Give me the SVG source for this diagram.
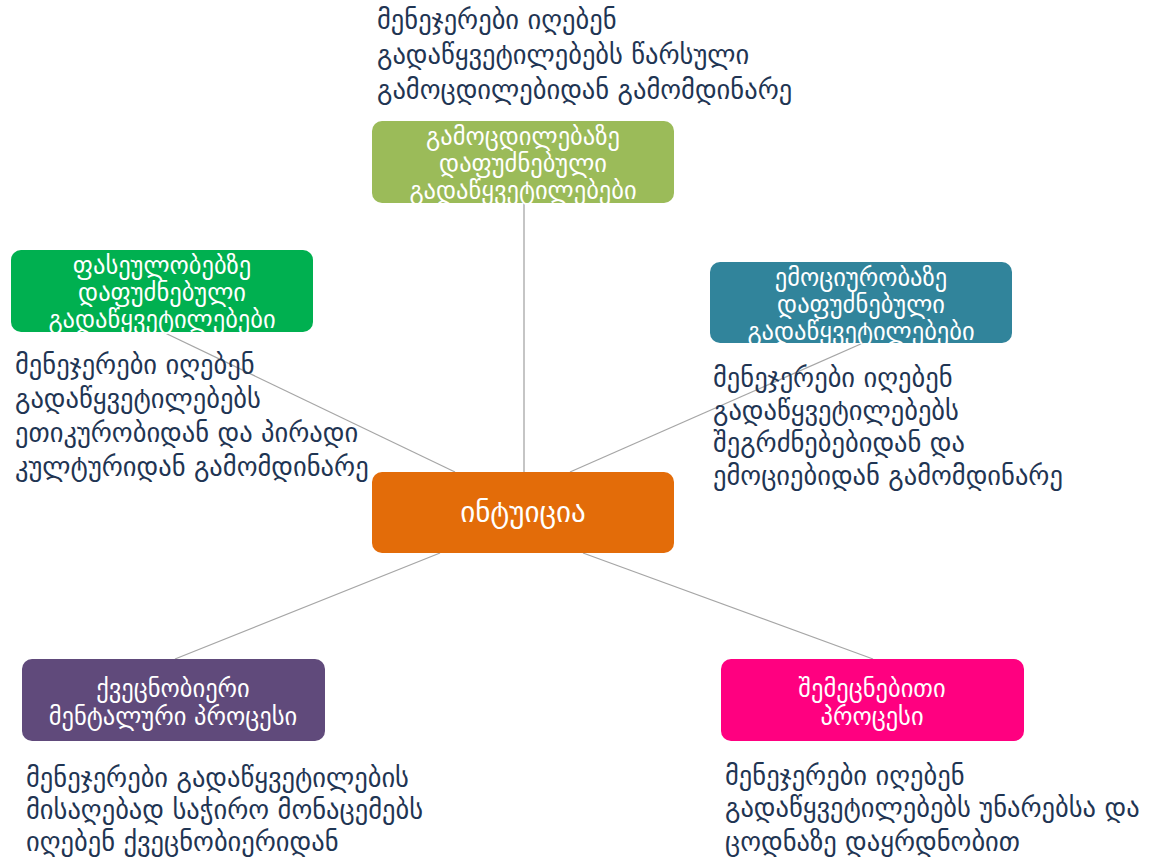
<svg xmlns="http://www.w3.org/2000/svg" width="1164" height="859" viewBox="0 0 1164 859">
<style>
.node{stroke:none}
.nt{font-family:"DejaVu Sans",sans-serif;font-size:24.5px;fill:#ffffff;text-anchor:middle}
.big{font-size:29px}
.note{font-family:"DejaVu Sans",sans-serif;font-size:26.5px;fill:#1F3553}
.conn{stroke:#A6A6A6;stroke-width:1.3;fill:none}
</style>
<rect width="1164" height="859" fill="#ffffff"/>
<g id="connectors">
<line class="conn" x1="524" y1="203" x2="524" y2="472"/>
<line class="conn" x1="163" y1="332" x2="455" y2="472"/>
<line class="conn" x1="863" y1="343" x2="570" y2="472"/>
<line class="conn" x1="440" y1="553" x2="175" y2="659"/>
<line class="conn" x1="583" y1="553" x2="873" y2="659"/>
</g>
<g id="node-top">
<rect class="node" x="372" y="121" width="302" height="82" rx="10" fill="#9BBB59"/>
<text class="nt" x="523" y="145">გამოცდილებაზე</text>
<text class="nt" x="523" y="172">დაფუძნებული</text>
<text class="nt" x="523" y="199">გადაწყვეტილებები</text>
</g>
<g id="node-left">
<rect class="node" x="11" y="250" width="302" height="82" rx="10" fill="#00B050"/>
<text class="nt" x="162" y="274">ფასეულობებზე</text>
<text class="nt" x="162" y="301">დაფუძნებული</text>
<text class="nt" x="162" y="328">გადაწყვეტილებები</text>
</g>
<g id="node-right">
<rect class="node" x="710" y="262" width="302" height="81" rx="10" fill="#31849B"/>
<text class="nt" x="861" y="286">ემოციურობაზე</text>
<text class="nt" x="861" y="313">დაფუძნებული</text>
<text class="nt" x="861" y="340">გადაწყვეტილებები</text>
</g>
<g id="node-center">
<rect class="node" x="372" y="472" width="302" height="81" rx="10" fill="#E36C09"/>
<text class="nt big" x="523" y="522">ინტუიცია</text>
</g>
<g id="node-bottom-left">
<rect class="node" x="22" y="659" width="303" height="82" rx="10" fill="#604A7B"/>
<text class="nt" x="173" y="697">ქვეცნობიერი</text>
<text class="nt" x="173" y="725">მენტალური პროცესი</text>
</g>
<g id="node-bottom-right">
<rect class="node" x="721" y="659" width="303" height="82" rx="10" fill="#FF0080"/>
<text class="nt" x="872" y="697">შემეცნებითი</text>
<text class="nt" x="872" y="725">პროცესი</text>
</g>
<g id="notes">
<text class="note" x="377" y="29">მენეჯერები იღებენ</text>
<text class="note" x="377" y="64">გადაწყვეტილებებს წარსული</text>
<text class="note" x="377" y="99">გამოცდილებიდან გამომდინარე</text>
<text class="note" x="15" y="374">მენეჯერები იღებენ</text>
<text class="note" x="15" y="408">გადაწყვეტილებებს</text>
<text class="note" x="15" y="442">ეთიკურობიდან და პირადი</text>
<text class="note" x="15" y="476">კულტურიდან გამომდინარე</text>
<text class="note" x="713" y="387">მენეჯერები იღებენ</text>
<text class="note" x="713" y="420">გადაწყვეტილებებს</text>
<text class="note" x="713" y="452">შეგრძნებებიდან და</text>
<text class="note" x="713" y="485">ემოციებიდან გამომდინარე</text>
<text class="note" x="26" y="787">მენეჯერები გადაწყვეტილების</text>
<text class="note" x="26" y="819">მისაღებად საჭირო მონაცემებს</text>
<text class="note" x="26" y="851">იღებენ ქვეცნობიერიდან</text>
<text class="note" x="725" y="785">მენეჯერები იღებენ</text>
<text class="note" x="725" y="817">გადაწყვეტილებებს უნარებსა და</text>
<text class="note" x="725" y="851">ცოდნაზე დაყრდნობით</text>
</g>
</svg>
